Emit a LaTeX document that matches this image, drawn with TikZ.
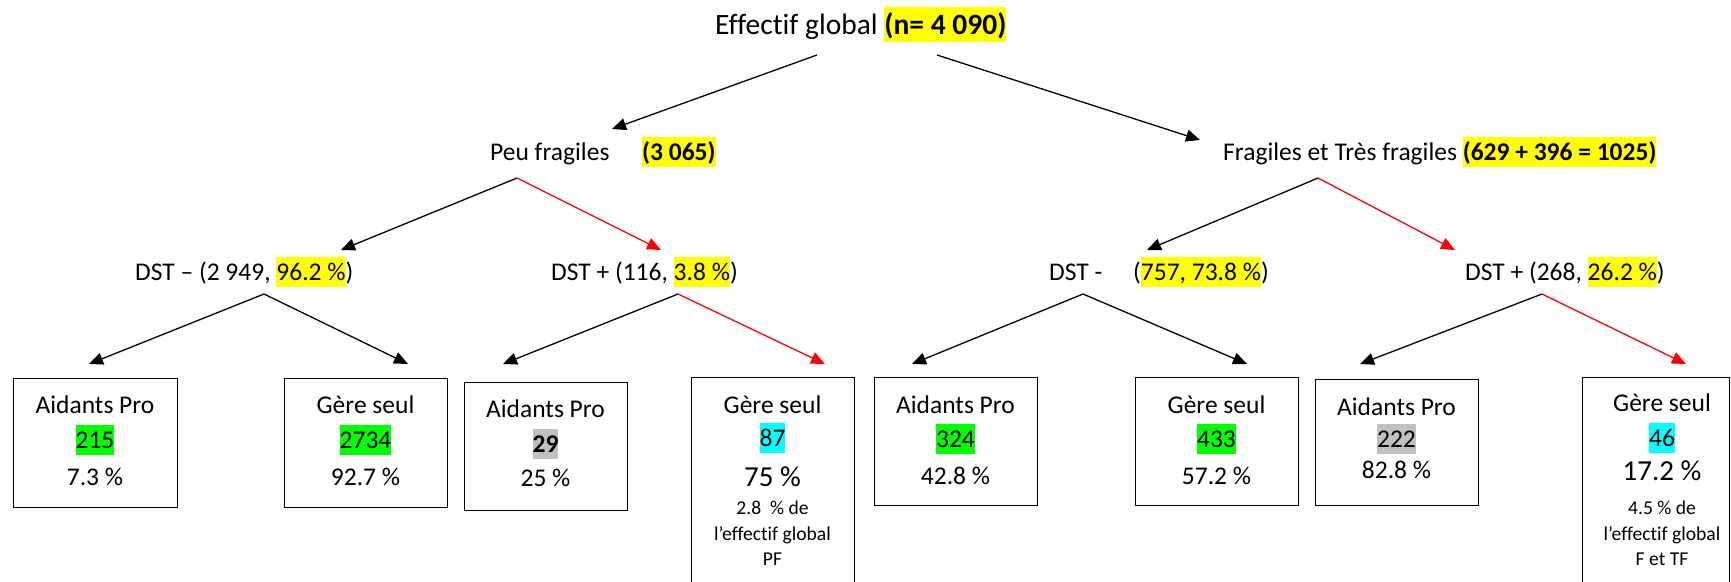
\documentclass[tikz,border=0pt]{standalone}
\usepackage{fontspec}
\setmainfont{Carlito}[Ligatures=NoCommon]
\usetikzlibrary{arrows.meta}
\definecolor{hlyellow}{RGB}{255,255,0}
\definecolor{hlgreen}{RGB}{0,255,0}
\definecolor{hlcyan}{RGB}{0,255,255}
\definecolor{hlgrey}{RGB}{192,192,192}
\definecolor{arrred}{RGB}{255,0,0}
\newcommand\hlbox[2]{{\setlength{\fboxsep}{0pt}\colorbox{#1}{\rule[-0.27em]{0pt}{1.19em}#2}}}
\begin{document}
\begin{tikzpicture}[x=1pt,y=-1pt,
  lbl/.style={inner sep=0pt, anchor=base west, font=\fontsize{25.5pt}{30pt}\selectfont},
  ttl/.style={inner sep=0pt, anchor=base west, font=\fontsize{29.5pt}{34pt}\selectfont},
  boxtxt/.style={inner sep=0pt, anchor=base, font=\fontsize{25.5pt}{30pt}\selectfont},
  bigtxt/.style={inner sep=0pt, anchor=base, font=\fontsize{29pt}{33pt}\selectfont},
  smalltxt/.style={inner sep=0pt, anchor=base, font=\fontsize{19.6pt}{23pt}\selectfont},
  leaf/.style={draw, line width=1.3pt, inner sep=0pt, anchor=north west},
  conn/.style={line width=1.3pt, -{Triangle[length=14pt,width=12pt]}},
  blackconn/.style={conn, black},
  redconn/.style={conn, arrred},
]
\useasboundingbox[fill=white] (0,0) rectangle (1731,581);
\clip (0,0) rectangle (1731,581);

% level texts
\node[ttl] (title) at (715,34) {Effectif global \hlbox{hlyellow}{\textbf{(n= 4 090)}}};
\node[lbl] (pf) at (490,160) {Peu fragiles};
\node[lbl] (pfn) at (642,160) {\hlbox{hlyellow}{\textbf{(3 065)}}};
\node[lbl] (ftf) at (1223,160) {Fragiles et Très fragiles \hlbox{hlyellow}{\textbf{(629 + 396 = 1025)}}};
\node[lbl] (dstmA) at (135,280) {DST – (2 949, \hlbox{hlyellow}{96.2 \%})};
\node[lbl] (dstpA) at (551,280) {DST + (116, \hlbox{hlyellow}{3.8 \%})};
\node[lbl] (dstmB) at (1049,280) {DST -};
\node[lbl] (dstmBn) at (1133,280) {(\hlbox{hlyellow}{757, 73.8 \%})};
\node[lbl] (dstpB) at (1465,280) {DST + (268, \hlbox{hlyellow}{26.2 \%})};

% boxes
\node[leaf, minimum width=164pt, minimum height=129pt] (b1) at (13,378) {};
\node[leaf, minimum width=163pt, minimum height=129pt] (b2) at (284,378) {};
\node[leaf, minimum width=163pt, minimum height=128pt] (b3) at (464,382) {};
\node[leaf, minimum width=163pt, minimum height=240pt] (b4) at (691,377) {};
\node[leaf, minimum width=163pt, minimum height=128pt] (b5) at (874,377) {};
\node[leaf, minimum width=163pt, minimum height=128pt] (b6) at (1135,377) {};
\node[leaf, minimum width=163pt, minimum height=126pt] (b7) at (1315,379) {};
\node[leaf, minimum width=147pt, minimum height=240pt] (b8) at (1582,377) {};

% box texts
\node[boxtxt] (b1a) at (95,413) {Aidants Pro};
\node[boxtxt] (b1b) at (95,448) {\hlbox{hlgreen}{215}};
\node[boxtxt] (b1c) at (95,485) {7.3 \%};

\node[boxtxt] (b2a) at (365.5,413) {Gère seul};
\node[boxtxt] (b2b) at (365.5,448) {\hlbox{hlgreen}{2734}};
\node[boxtxt] (b2c) at (365.5,485) {92.7 \%};

\node[boxtxt] (b3a) at (545.5,417) {Aidants Pro};
\node[boxtxt] (b3b) at (545.5,452) {\hlbox{hlgrey}{\textbf{29}}};
\node[boxtxt] (b3c) at (545.5,486) {25 \%};

\node[boxtxt] (b4a) at (772.5,413) {Gère seul};
\node[boxtxt] (b4b) at (772.5,446) {\hlbox{hlcyan}{87}};
\node[bigtxt] (b4c) at (772.5,486) {75 \%};
\node[smalltxt] (b4d) at (772.5,514) {2.8\ \ \% de};
\node[smalltxt] (b4e) at (772.5,540) {l’effectif global};
\node[smalltxt] (b4f) at (772.5,565) {PF};

\node[boxtxt] (b5a) at (955.5,413) {Aidants Pro};
\node[boxtxt] (b5b) at (955.5,447) {\hlbox{hlgreen}{324}};
\node[boxtxt] (b5c) at (955.5,484) {42.8 \%};

\node[boxtxt] (b6a) at (1216.5,413) {Gère seul};
\node[boxtxt] (b6b) at (1216.5,447) {\hlbox{hlgreen}{433}};
\node[boxtxt] (b6c) at (1216.5,484) {57.2 \%};

\node[boxtxt] (b7a) at (1396.5,415) {Aidants Pro};
\node[boxtxt] (b7b) at (1396.5,447) {\hlbox{hlgrey}{222}};
\node[boxtxt] (b7c) at (1396.5,478) {82.8 \%};

\node[boxtxt] (b8a) at (1662,411) {Gère seul};
\node[boxtxt] (b8b) at (1662,446) {\hlbox{hlcyan}{46}};
\node[bigtxt] (b8c) at (1662,480) {17.2 \%};
\node[smalltxt] (b8d) at (1662,514) {4.5 \% de};
\node[smalltxt] (b8e) at (1662,540) {l’effectif global};
\node[smalltxt] (b8f) at (1662,565) {F et TF};

% connector end points
\coordinate (tL) at (817,55);
\coordinate (tR) at (937,55);
\coordinate (pfT) at (612,129);
\coordinate (ftfT) at (1200,140);
\coordinate (pfA) at (517,178);
\coordinate (dstmAT) at (341,250);
\coordinate (dstpAT) at (661,250);
\coordinate (ftfA) at (1318,178);
\coordinate (dstmBT) at (1147,250);
\coordinate (dstpBT) at (1455,250);
\coordinate (dstmAA) at (264,294);
\coordinate (dstpAA) at (678,294);
\coordinate (dstmBA) at (1083,294);
\coordinate (dstpBA) at (1542,294);
\coordinate (b1T) at (89,364);
\coordinate (b2T) at (408,364);
\coordinate (b3T) at (503,364);
\coordinate (b4T) at (825,364);
\coordinate (b5T) at (912,364);
\coordinate (b6T) at (1247,364);
\coordinate (b7T) at (1360,364);
\coordinate (b8T) at (1686,364);

% connectors
\draw[blackconn] (tL) -- (pfT);
\draw[blackconn] (tR) -- (ftfT);
\draw[blackconn] (pfA) -- (dstmAT);
\draw[redconn] (pfA) -- (dstpAT);
\draw[blackconn] (ftfA) -- (dstmBT);
\draw[redconn] (ftfA) -- (dstpBT);
\draw[blackconn] (dstmAA) -- (b1T);
\draw[blackconn] (dstmAA) -- (b2T);
\draw[blackconn] (dstpAA) -- (b3T);
\draw[redconn] (dstpAA) -- (b4T);
\draw[blackconn] (dstmBA) -- (b5T);
\draw[blackconn] (dstmBA) -- (b6T);
\draw[blackconn] (dstpBA) -- (b7T);
\draw[redconn] (dstpBA) -- (b8T);
\end{tikzpicture}
\end{document}
